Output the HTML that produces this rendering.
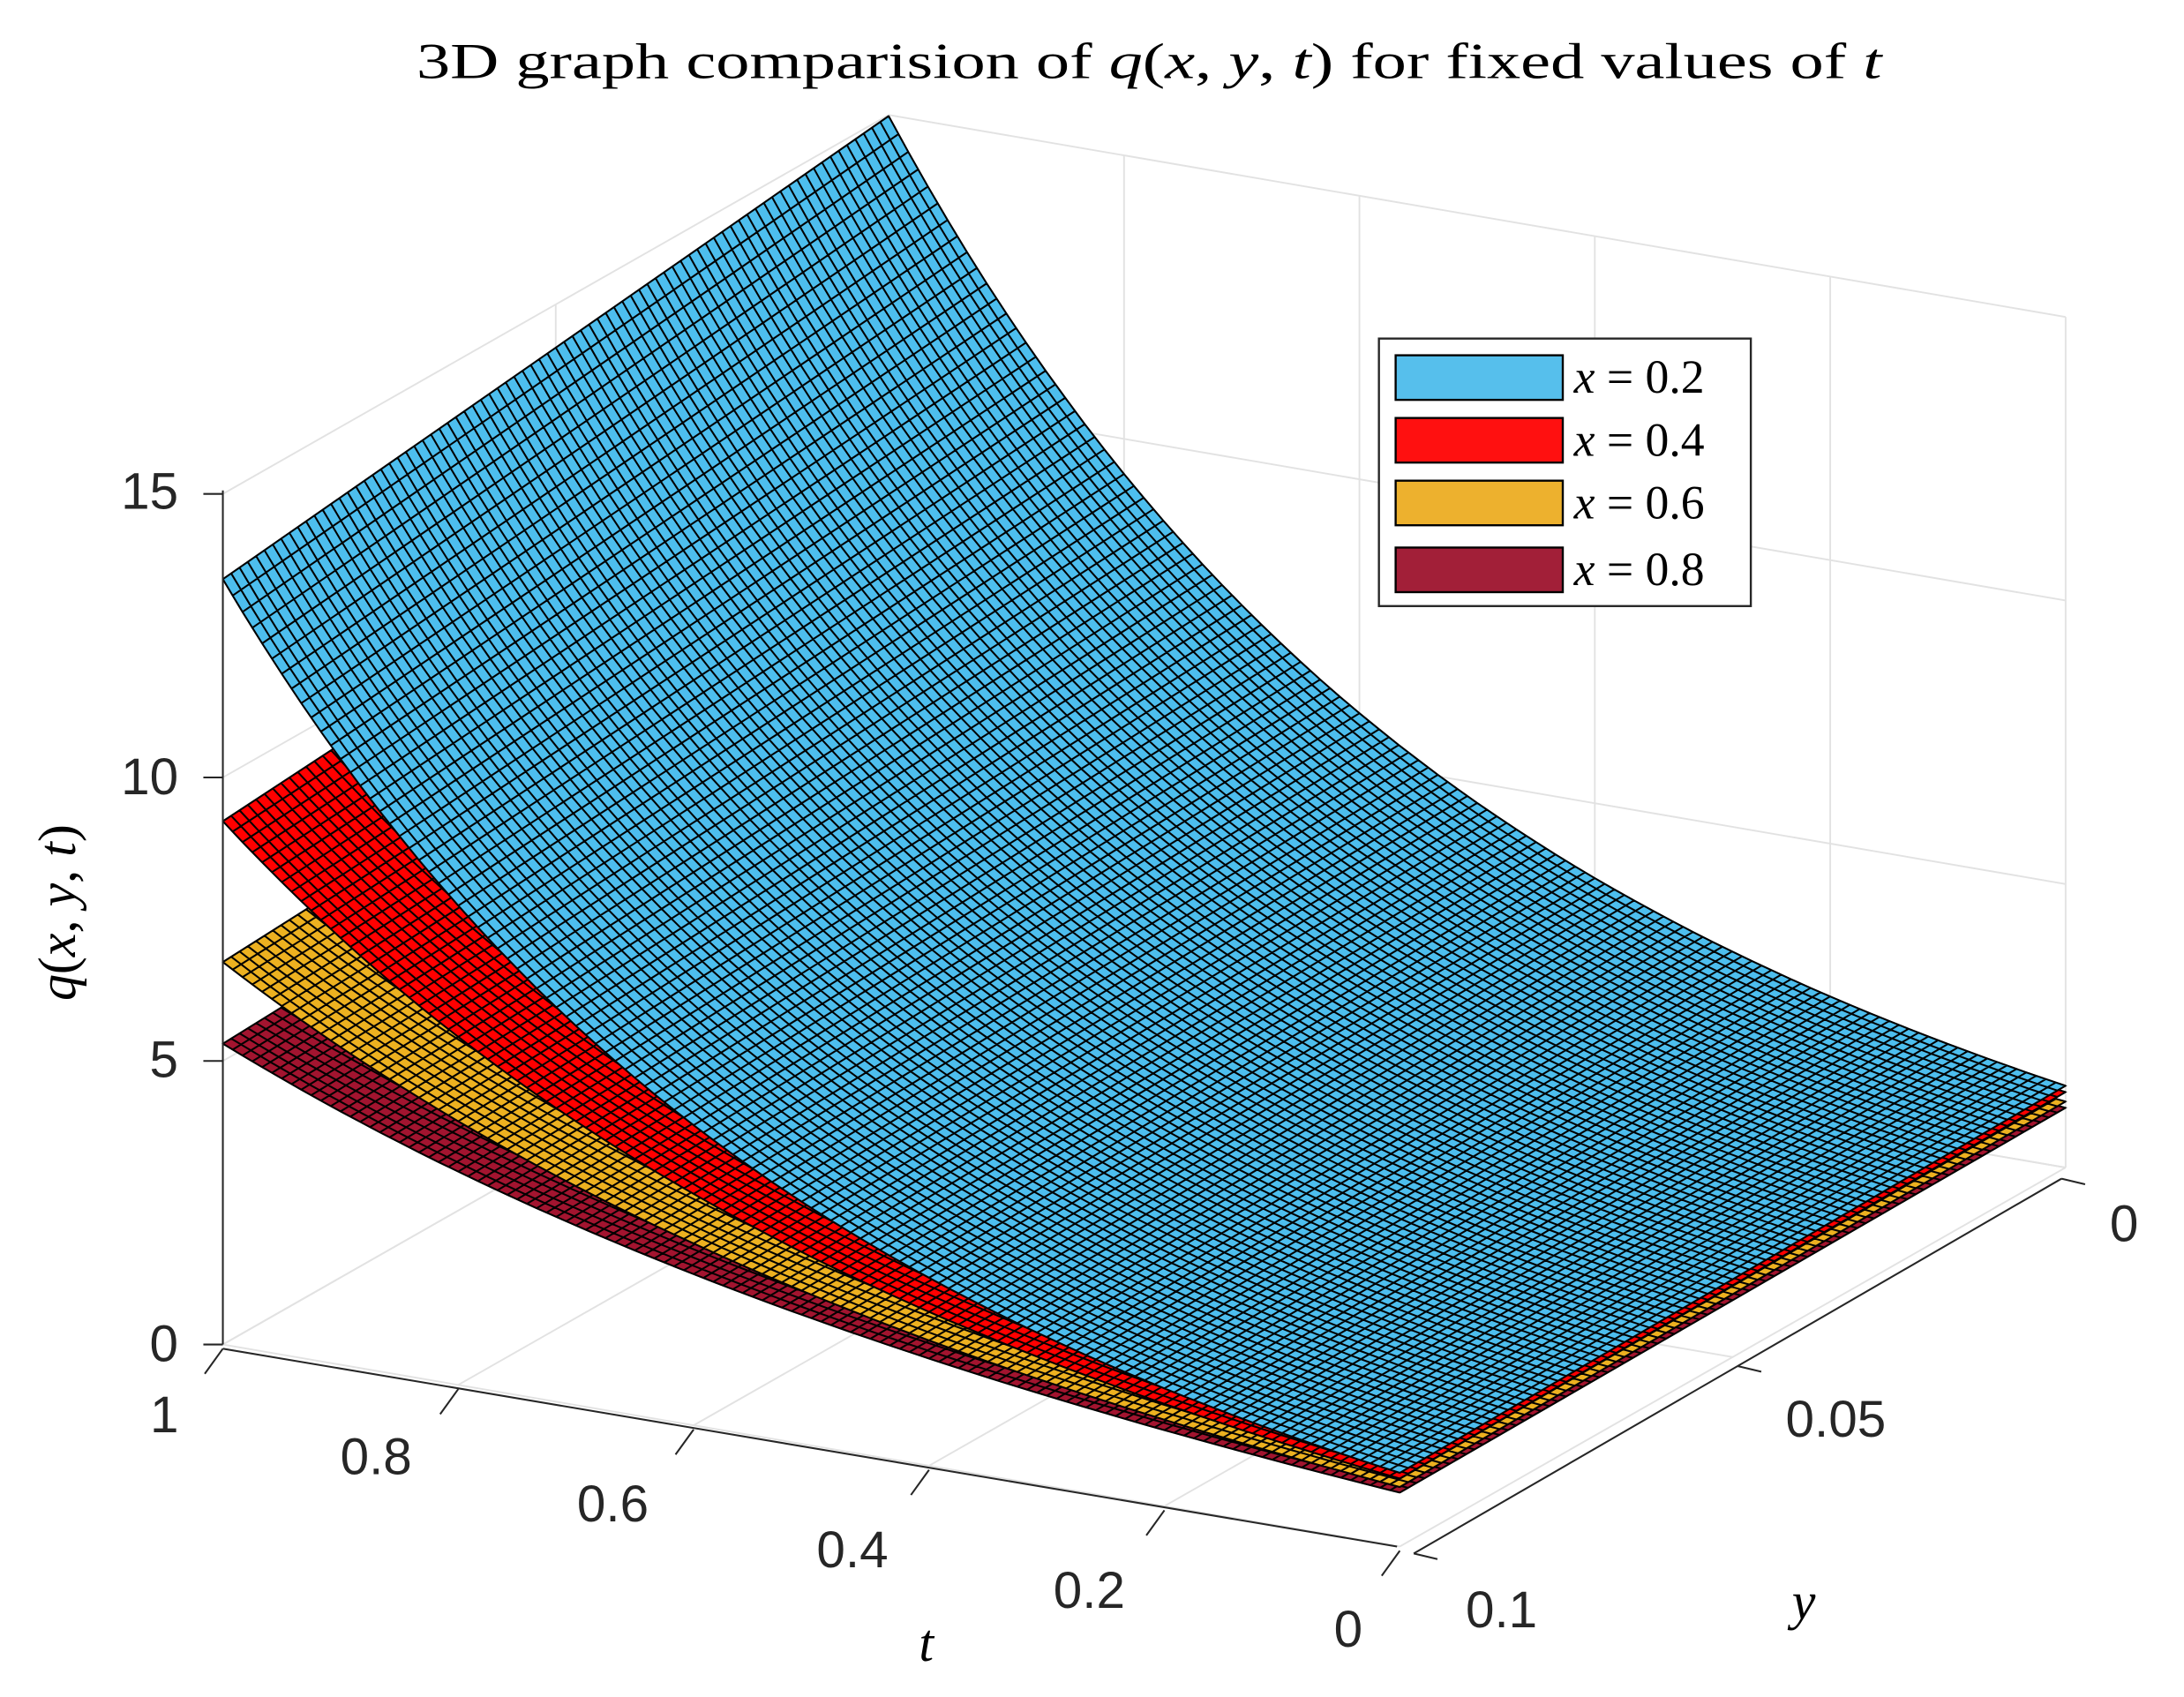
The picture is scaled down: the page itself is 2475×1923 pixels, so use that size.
<!DOCTYPE html>
<html><head><meta charset="utf-8">
<style>html,body{margin:0;padding:0;background:#fff;overflow:hidden}svg{display:block}</style>
</head><body>
<svg id="s" width="2475" height="1923" viewBox="0 0 1568 1218" preserveAspectRatio="none" xmlns="http://www.w3.org/2000/svg">
<rect width="1568" height="1218" fill="#fff"/>
<g id="grid" stroke="#e2e2e2" stroke-width="1.2" fill="none"></g>
<g id="surf"></g>
<g id="axes" stroke="#262626" stroke-width="1.3" fill="none"></g>
<g font-family="Liberation Sans, Arial, sans-serif" font-size="37" fill="#262626">
<text x="128" y="365" text-anchor="end">15</text>
<text x="128" y="570" text-anchor="end">10</text>
<text x="128" y="773" text-anchor="end">5</text>
<text x="128" y="977" text-anchor="end">0</text>
<text x="118" y="1028" text-anchor="middle">1</text>
<text x="270" y="1058" text-anchor="middle">0.8</text>
<text x="440" y="1092" text-anchor="middle">0.6</text>
<text x="612" y="1125" text-anchor="middle">0.4</text>
<text x="782" y="1154" text-anchor="middle">0.2</text>
<text x="968" y="1182" text-anchor="middle">0</text>
<text x="1078" y="1168" text-anchor="middle">0.1</text>
<text x="1318" y="1031" text-anchor="middle">0.05</text>
<text x="1525" y="891" text-anchor="middle">0</text>
</g>
<g font-family="Liberation Serif, 'Times New Roman', serif" fill="#000">
<text x="825" y="56" font-size="36" text-anchor="middle" textLength="1052" lengthAdjust="spacingAndGlyphs">3D graph comparision of <tspan font-style="italic">q</tspan>(<tspan font-style="italic">x</tspan>, <tspan font-style="italic">y</tspan>, <tspan font-style="italic">t</tspan>) for fixed values of <tspan font-style="italic">t</tspan></text>
<text x="665" y="1192" font-size="38" font-style="italic" text-anchor="middle">t</text>
<text x="1295" y="1162" font-size="38" font-style="italic" text-anchor="middle">y</text>
<text transform="translate(54,655) rotate(-90)" font-size="38" text-anchor="middle"><tspan font-style="italic">q</tspan>(<tspan font-style="italic">x</tspan>, <tspan font-style="italic">y</tspan>, <tspan font-style="italic">t</tspan>)</text>
</g>
<g>
<rect x="990" y="243" width="267" height="192" fill="#fff" stroke="#262626" stroke-width="1.5"/>
<rect x="1002" y="255" width="120" height="32" fill="#56BFEC" stroke="#000" stroke-width="1.5"/>
<rect x="1002" y="300" width="120" height="32" fill="#FF1010" stroke="#000" stroke-width="1.5"/>
<rect x="1002" y="345" width="120" height="32" fill="#EDB12E" stroke="#000" stroke-width="1.5"/>
<rect x="1002" y="393" width="120" height="32" fill="#A21F38" stroke="#000" stroke-width="1.5"/>
<g font-family="Liberation Serif, serif" font-size="34" fill="#000">
<text x="1130" y="282"><tspan font-style="italic">x</tspan> = 0.2</text>
<text x="1130" y="327"><tspan font-style="italic">x</tspan> = 0.4</text>
<text x="1130" y="372"><tspan font-style="italic">x</tspan> = 0.6</text>
<text x="1130" y="420"><tspan font-style="italic">x</tspan> = 0.8</text>
</g>
</g>
</svg>
<script>
(function(){
var NS="http://www.w3.org/2000/svg";
var A=[160,965],dU=[845,145],dV=[478,-272],ZS=40.7;
function P(t,y,z){var u=1-t,v=(0.1-y)/0.1;return [A[0]+u*dU[0]+v*dV[0],A[1]+u*dU[1]+v*dV[1]-ZS*z];}
function f(p){return p[0].toFixed(1)+","+p[1].toFixed(1);}
function add(g,tag,attrs){var e=document.createElementNS(NS,tag);for(var k in attrs)e.setAttribute(k,attrs[k]);g.appendChild(e);return e;}
var grid=document.getElementById("grid"),axes=document.getElementById("axes"),surf=document.getElementById("surf");
function line(g,p,q){add(g,"line",{x1:p[0],y1:p[1],x2:q[0],y2:q[1]});}
var zs=[0,5,10,15],ts=[0,0.2,0.4,0.6,0.8,1],ys=[0,0.05,0.1];
zs.forEach(function(z){line(grid,P(1,0.1,z),P(1,0,z));line(grid,P(1,0,z),P(0,0,z));});
ys.forEach(function(y){line(grid,P(1,y,0),P(1,y,15));line(grid,P(1,y,0),P(0,y,0));});
ts.forEach(function(t){line(grid,P(t,0,0),P(t,0,15));line(grid,P(t,0.1,0),P(t,0,0));});
var S=[["#A2142F",0.95,1.72],["#EDB120",1.05,1.86],["#FF0000",1.2,2.04],["#4DBEEE",1.3,2.34]];
var NT=120,NY=80;
S.forEach(function(s){
 function q(t,y){var v=(0.1-y)/0.1;return s[1]*(1+0.11*v)*Math.exp(s[2]*t);}
 var pts=[],i,j,t,y;
 for(i=NT;i>=0;i--){t=i/NT;pts.push(f(P(t,0.1,q(t,0.1))));}
 for(j=0;j<=NY;j++){y=0.1-0.1*j/NY;pts.push(f(P(0,y,q(0,y))));}
 for(i=0;i<=NT;i++){t=i/NT;pts.push(f(P(t,0,q(t,0))));}
 for(j=NY;j>=0;j--){y=0.1-0.1*j/NY;pts.push(f(P(1,y,q(1,y))));}
 add(surf,"polygon",{points:pts.join(" "),fill:s[0],stroke:"#000","stroke-width":"1"});
 var d="";
 for(i=0;i<=NT;i++){t=i/NT;var a=[];for(j=0;j<=4;j++){y=0.1-0.1*j/4;a.push(f(P(t,y,q(t,y))));}d+="M"+a.join("L");}
 for(j=0;j<=NY;j++){y=0.1-0.1*j/NY;var a=[];for(i=0;i<=NT;i+=2){t=i/NT;a.push(f(P(t,y,q(t,y))));}d+="M"+a.join("L");}
 add(surf,"path",{d:d,fill:"none",stroke:"#000","stroke-width":"1.3"});
});
line(axes,[160,352],[160,965]);
zs.forEach(function(z){var p=P(1,0.1,z);line(axes,[p[0]-14,p[1]],p);});
var a0=[160,968],a1=[1003,1110];line(axes,a0,a1);
ts.forEach(function(t){var p=P(t,0.1,0);p=[p[0],p[1]+3];line(axes,p,[p[0]-13,p[1]+18]);});
var b0=[1015,1115],b1=[1480,846];line(axes,b0,b1);
ys.forEach(function(y){var v=(0.1-y)/0.1;var p=[b0[0]+v*(b1[0]-b0[0]),b0[1]+v*(b1[1]-b0[1])];line(axes,p,[p[0]+17,p[1]+4]);});
})();
</script>
</body></html>
